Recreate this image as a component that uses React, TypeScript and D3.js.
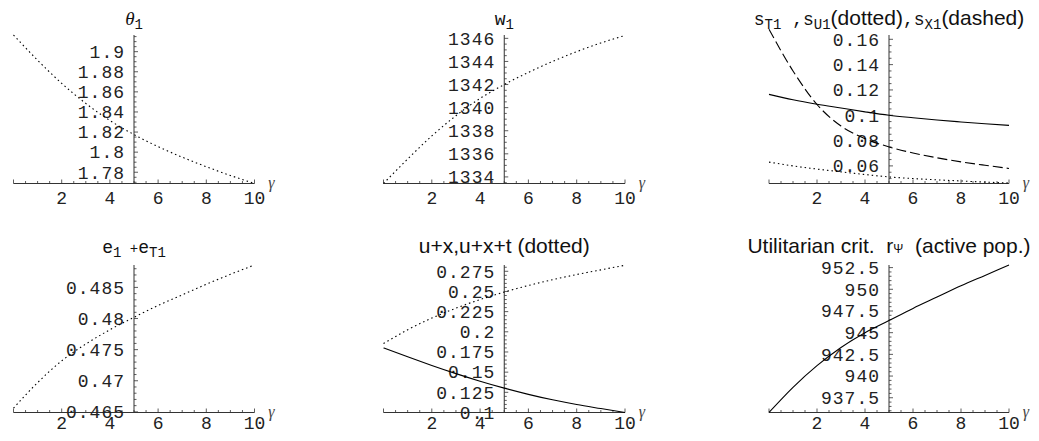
import * as d3 from "d3";
import React from "react";

// gamma grid the curves were read at
const gamma = [0, 1, 2, 3, 4, 5, 6, 7, 8, 9, 10];

const theta1 = [1.9166, 1.8915, 1.8685, 1.8485, 1.8315, 1.8175, 1.8055, 1.795, 1.7855, 1.7768, 1.7688];
const w1 = [1333.43, 1335.55, 1337.55, 1339.3, 1340.8, 1342.0, 1343.05, 1344.0, 1344.85, 1345.6, 1346.25];
const sT1 = [0.1165, 0.1122, 0.1087, 0.1057, 0.1027, 0.1, 0.098, 0.0962, 0.0947, 0.0933, 0.092];
const sU1 = [0.063, 0.06, 0.0575, 0.0553, 0.0532, 0.0513, 0.05, 0.049, 0.0481, 0.0472, 0.0465];
const sX1 = [0.168, 0.135, 0.1085, 0.0915, 0.0815, 0.075, 0.0702, 0.0664, 0.0632, 0.0605, 0.058];
const eSum = [0.4656, 0.4697, 0.4732, 0.4759, 0.4782, 0.4802, 0.4821, 0.4838, 0.4855, 0.4871, 0.4886];
const ux = [0.18, 0.169, 0.1583, 0.1482, 0.1388, 0.1302, 0.1225, 0.1157, 0.1099, 0.1049, 0.1];
const uxt = [0.1855, 0.2025, 0.217, 0.2293, 0.24, 0.2493, 0.2574, 0.2646, 0.271, 0.2768, 0.2825];
const util = [935.8, 938.7, 941.2, 943.3, 945.0, 946.4, 947.8, 949.1, 950.4, 951.6, 952.8];

const xTicks = [2, 4, 6, 8, 10];
const theta1Ticks = [1.78, 1.8, 1.82, 1.84, 1.86, 1.88, 1.9];
const w1Ticks = [1334, 1336, 1338, 1340, 1342, 1344, 1346];
const sTicks = [0.06, 0.08, 0.1, 0.12, 0.14, 0.16];
const eTicks = [0.465, 0.47, 0.475, 0.48, 0.485];
const uTicks = [0.1, 0.125, 0.15, 0.175, 0.2, 0.225, 0.25, 0.275];
const utilTicks = [937.5, 940, 942.5, 945, 947.5, 950, 952.5];

const MONO = "'Liberation Mono', 'Courier New', monospace";
const SANS = "'Liberation Sans', Arial, sans-serif";
const SERIF = "'Liberation Serif', 'Times New Roman', serif";
const DOT = "1.5 3";
const DASH = "10 4";

const cols = [
  { left: 13.5, right: 254.5 },
  { left: 383.5, right: 625 },
  { left: 769, right: 1009 },
];
const rows = [
  { top: 35, bottom: 183.5, titleY: 25, labelDy: 14 },
  { top: 265, bottom: 412.5, titleY: 253, labelDy: 10 },
];

type Series = { values: number[]; dash?: string };
type Panel = {
  col: number;
  row: number;
  yDomain: [number, number];
  yTicks: number[];
  yMinor: number;
  series: Series[];
  title: React.ReactNode;
};

const sub = (t: string) => (
  <tspan fontFamily={MONO} fontSize={14} dy={4}>
    {t}
  </tspan>
);

const panels: Panel[] = [
  {
    col: 0, row: 0, yDomain: [1.7688, 1.9166], yTicks: theta1Ticks, yMinor: 0.005,
    series: [{ values: theta1, dash: DOT }],
    title: (
      <>
        <tspan fontFamily={SERIF} fontStyle="italic" fontSize={19}>θ</tspan>
        {sub("1")}
      </>
    ),
  },
  {
    col: 1, row: 0, yDomain: [1333.43, 1346.29], yTicks: w1Ticks, yMinor: 0.5,
    series: [{ values: w1, dash: DOT }],
    title: (
      <>
        <tspan fontFamily={MONO} fontSize={18}>w</tspan>
        {sub("1")}
      </>
    ),
  },
  {
    col: 2, row: 0, yDomain: [0.0461, 0.1634], yTicks: sTicks, yMinor: 0.005,
    series: [{ values: sT1 }, { values: sU1, dash: DOT }, { values: sX1, dash: DASH }],
    title: (
      <>
        <tspan fontFamily={MONO} fontSize={18}>s</tspan>
        {sub("T1")}
        <tspan fontFamily={MONO} fontSize={18} dy={-4}> ,s</tspan>
        {sub("U1")}
        <tspan fontFamily={SANS} fontSize={21} dy={-4}>(dotted)</tspan>
        <tspan fontFamily={MONO} fontSize={18}>,s</tspan>
        {sub("X1")}
        <tspan fontFamily={SANS} fontSize={21} dy={-4}>(dashed)</tspan>
      </>
    ),
  },
  {
    col: 0, row: 1, yDomain: [0.4649, 0.4886], yTicks: eTicks, yMinor: 0.001,
    series: [{ values: eSum, dash: DOT }],
    title: (
      <>
        <tspan fontFamily={MONO} fontSize={18}>e</tspan>
        {sub("1")}
        <tspan fontFamily={MONO} fontSize={14} dy={-4}> +</tspan>
        <tspan fontFamily={MONO} fontSize={18}>e</tspan>
        {sub("T1")}
      </>
    ),
  },
  {
    col: 1, row: 1, yDomain: [0.1, 0.2828], yTicks: uTicks, yMinor: 0.005,
    series: [{ values: ux }, { values: uxt, dash: DOT }],
    title: <tspan fontFamily={SANS} fontSize={21}>u+x,u+x+t (dotted)</tspan>,
  },
  {
    col: 2, row: 1, yDomain: [935.8, 952.8], yTicks: utilTicks, yMinor: 0.5,
    series: [{ values: util }],
    title: (
      <>
        <tspan fontFamily={SANS} fontSize={21}>Utilitarian crit.  r</tspan>
        <tspan fontFamily={SANS} fontSize={12}>Ψ</tspan>
        <tspan fontFamily={SANS} fontSize={21}>  (active pop.)</tspan>
      </>
    ),
  },
];

function PlotPanel({ p }: { p: Panel }) {
  const c = cols[p.col];
  const r = rows[p.row];
  const x = d3.scaleLinear().domain([0, 10]).range([c.left, c.right]);
  const y = d3.scaleLinear().domain(p.yDomain).range([r.bottom, r.top]);
  const axisX = x(5);
  const line = d3
    .line<number>()
    .x((_, i) => x(gamma[i]))
    .y((d) => y(d))
    .curve(d3.curveMonotoneX);

  const xMinor = d3.range(0, 10.001, 0.5);
  const yMinor = d3.range(
    Math.ceil(p.yDomain[0] / p.yMinor - 1e-6) * p.yMinor,
    p.yDomain[1] + 1e-9,
    p.yMinor
  );
  const isMajor = (v: number, list: number[]) =>
    list.some((t) => Math.abs(t - v) < p.yMinor / 10);

  return (
    <g>
      {/* axes */}
      <line x1={c.left} x2={c.right} y1={r.bottom} y2={r.bottom} stroke="#333" strokeWidth={1} />
      <line x1={axisX} x2={axisX} y1={r.bottom} y2={r.top} stroke="#333" strokeWidth={1} />
      {xMinor.map((v) => (
        <line
          key={"xm" + v}
          x1={x(v)}
          x2={x(v)}
          y1={r.bottom}
          y2={r.bottom - (v % 2 === 0 ? 4 : 2.5)}
          stroke="#333"
          strokeWidth={0.8}
        />
      ))}
      {yMinor.map((v) => (
        <line
          key={"ym" + v}
          x1={axisX}
          x2={axisX + (isMajor(v, p.yTicks) ? 4 : 2.5)}
          y1={y(v)}
          y2={y(v)}
          stroke="#333"
          strokeWidth={0.8}
        />
      ))}
      {xTicks.map((v) => (
        <text
          key={"xl" + v}
          x={x(v)}
          y={r.bottom + r.labelDy}
          dy="0.35em"
          textAnchor="middle"
          fontFamily={MONO}
          fontSize={18}
          fill="#222"
        >
          {v}
        </text>
      ))}
      {p.yTicks.map((v) => (
        <text
          key={"yl" + v}
          x={axisX - 9}
          y={y(v)}
          dy="0.35em"
          textAnchor="end"
          fontFamily={MONO}
          fontSize={18}
          letterSpacing={1}
          fill="#222"
        >
          {String(+v.toFixed(6))}
        </text>
      ))}
      <text
        x={c.right + 17}
        y={r.bottom + 4}
        textAnchor="middle"
        fontFamily={SERIF}
        fontStyle="italic"
        fontSize={16}
        fill="#444"
      >
        γ
      </text>
      {/* curves */}
      {p.series.map((s, i) => (
        <path
          key={i}
          d={line(s.values) ?? ""}
          fill="none"
          stroke="#000"
          strokeWidth={1.1}
          strokeDasharray={s.dash}
        />
      ))}
      <text x={axisX} y={r.titleY} textAnchor="middle" fill="#111" xmlSpace="preserve">
        {p.title}
      </text>
    </g>
  );
}

export default function App() {
  return (
    <svg
      width={1039}
      height={441}
      style={{ position: "absolute", left: 0, top: 0, background: "#fff" }}
    >
      {panels.map((p, i) => (
        <PlotPanel key={i} p={p} />
      ))}
    </svg>
  );
}
